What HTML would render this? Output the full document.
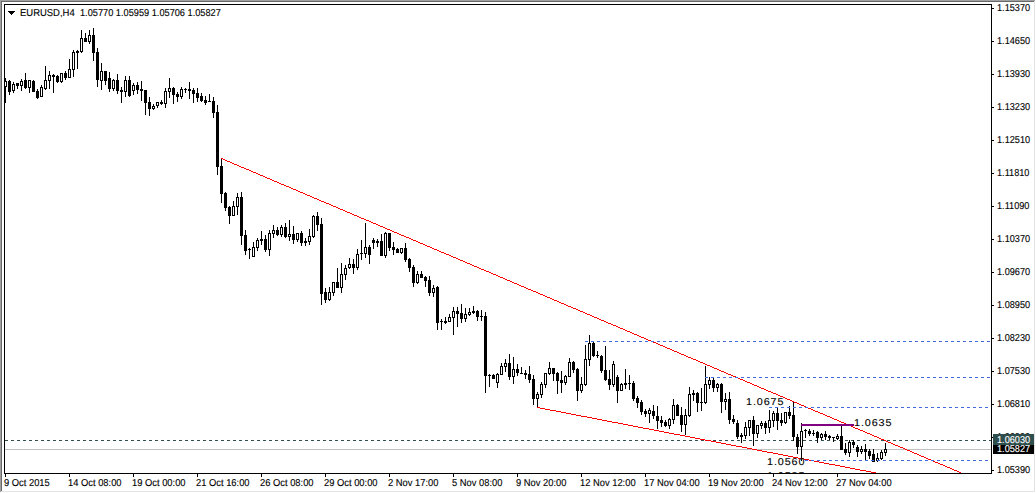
<!DOCTYPE html>
<html><head><meta charset="utf-8"><title>EURUSD,H4</title>
<style>
html,body{margin:0;padding:0;background:#fff;}
body{width:1036px;height:493px;position:relative;overflow:hidden;font-family:"Liberation Sans",sans-serif;color:#000;text-rendering:geometricPrecision;}
.b{position:absolute;}
.t{position:absolute;white-space:nowrap;font-size:10px;line-height:10px;transform-origin:0 0;transform:scaleX(0.945);-webkit-text-stroke:0.12px #000;}
.yl{left:997px;transform:scaleX(0.915);}
.xl{top:479px;transform:scaleX(0.935);}
.lab{position:absolute;white-space:nowrap;font-size:10px;line-height:10px;transform-origin:0 0;transform:scaleX(1.08);letter-spacing:0.82px;-webkit-text-stroke:0.1px #000;}
.pl{position:absolute;left:993px;width:41px;color:#fff;font-size:10px;line-height:10px;white-space:nowrap;}
.pl span{position:absolute;left:4px;transform-origin:0 0;transform:scaleX(0.915);-webkit-text-stroke:0.12px #fff;}
svg{position:absolute;left:0;top:0;}
</style></head><body>

<div class="b" style="left:0;top:0;width:1035px;height:1px;background:#a0a0a0"></div>
<div class="b" style="left:0;top:0;width:1px;height:492px;background:#a0a0a0"></div>
<div class="b" style="left:1px;top:1px;width:1033px;height:1px;background:#696969"></div>
<div class="b" style="left:1px;top:1px;width:1px;height:490px;background:#696969"></div>
<div class="b" style="left:1034px;top:1px;width:1px;height:491px;background:#e3e3e3"></div>
<div class="b" style="left:1px;top:491px;width:1034px;height:1px;background:#e3e3e3"></div>
<svg width="1036" height="493" viewBox="0 0 1036 493" shape-rendering="crispEdges" fill="none" stroke="#000" stroke-width="1">
<defs><clipPath id="c"><rect x="5" y="5" width="986" height="468"/></clipPath></defs>
<g clip-path="url(#c)">
<path d="M5 440.5H991" stroke="#2f4f4f" stroke-dasharray="3 3"/>
<path d="M5 449.5H991" stroke="#c0c0c0"/>
<g><path d="M5.5 78V103"/>
<rect x="4" y="81" width="3" height="6" fill="#000" stroke="none"/>
<rect x="5" y="82" width="1" height="4" fill="#fff" stroke="none"/>
<path d="M9.5 80V95"/>
<rect x="8" y="81" width="3" height="11" fill="#000" stroke="none"/>
<path d="M13.5 82V93"/>
<rect x="12" y="84" width="3" height="7" fill="#000" stroke="none"/>
<rect x="13" y="85" width="1" height="5" fill="#fff" stroke="none"/>
<path d="M17.5 83V89"/>
<rect x="16" y="83" width="3" height="3" fill="#000" stroke="none"/>
<path d="M21.5 79V91"/>
<rect x="20" y="81" width="3" height="5" fill="#000" stroke="none"/>
<rect x="21" y="82" width="1" height="3" fill="#fff" stroke="none"/>
<path d="M25.5 73V89"/>
<rect x="24" y="80" width="3" height="8" fill="#000" stroke="none"/>
<path d="M29.5 80V93"/>
<rect x="28" y="80" width="3" height="8" fill="#000" stroke="none"/>
<rect x="29" y="81" width="1" height="6" fill="#fff" stroke="none"/>
<path d="M33.5 80V92"/>
<rect x="32" y="81" width="3" height="11" fill="#000" stroke="none"/>
<path d="M37.5 89V99"/>
<rect x="36" y="91" width="3" height="7" fill="#000" stroke="none"/>
<path d="M41.5 85V97"/>
<rect x="40" y="87" width="3" height="10" fill="#000" stroke="none"/>
<rect x="41" y="88" width="1" height="8" fill="#fff" stroke="none"/>
<path d="M45.5 66V90"/>
<rect x="44" y="80" width="3" height="9" fill="#000" stroke="none"/>
<rect x="45" y="81" width="1" height="7" fill="#fff" stroke="none"/>
<path d="M49.5 71V89"/>
<rect x="48" y="75" width="3" height="6" fill="#000" stroke="none"/>
<rect x="49" y="76" width="1" height="4" fill="#fff" stroke="none"/>
<path d="M53.5 74V93"/>
<rect x="52" y="75" width="3" height="2" fill="#000" stroke="none"/>
<path d="M57.5 75V83"/>
<rect x="56" y="76" width="3" height="6" fill="#000" stroke="none"/>
<path d="M61.5 73V83"/>
<rect x="60" y="73" width="3" height="9" fill="#000" stroke="none"/>
<rect x="61" y="74" width="1" height="7" fill="#fff" stroke="none"/>
<path d="M65.5 71V80"/>
<rect x="64" y="73" width="3" height="5" fill="#000" stroke="none"/>
<path d="M69.5 59V78"/>
<rect x="68" y="69" width="3" height="9" fill="#000" stroke="none"/>
<rect x="69" y="70" width="1" height="7" fill="#fff" stroke="none"/>
<path d="M73.5 50V77"/>
<rect x="72" y="52" width="3" height="18" fill="#000" stroke="none"/>
<rect x="73" y="53" width="1" height="16" fill="#fff" stroke="none"/>
<path d="M77.5 50V69"/>
<rect x="76" y="51" width="3" height="2" fill="#000" stroke="none"/>
<path d="M81.5 30V53"/>
<rect x="80" y="38" width="3" height="14" fill="#000" stroke="none"/>
<rect x="81" y="39" width="1" height="12" fill="#fff" stroke="none"/>
<path d="M85.5 33V42"/>
<rect x="84" y="38" width="3" height="4" fill="#000" stroke="none"/>
<path d="M89.5 30V44"/>
<rect x="88" y="35" width="3" height="7" fill="#000" stroke="none"/>
<rect x="89" y="36" width="1" height="5" fill="#fff" stroke="none"/>
<path d="M93.5 28V61"/>
<rect x="92" y="35" width="3" height="18" fill="#000" stroke="none"/>
<path d="M97.5 48V87"/>
<rect x="96" y="52" width="3" height="28" fill="#000" stroke="none"/>
<path d="M101.5 63V90"/>
<rect x="100" y="71" width="3" height="10" fill="#000" stroke="none"/>
<rect x="101" y="72" width="1" height="8" fill="#fff" stroke="none"/>
<path d="M105.5 71V85"/>
<rect x="104" y="71" width="3" height="10" fill="#000" stroke="none"/>
<path d="M109.5 72V92"/>
<rect x="108" y="78" width="3" height="11" fill="#000" stroke="none"/>
<path d="M113.5 79V91"/>
<rect x="112" y="80" width="3" height="9" fill="#000" stroke="none"/>
<rect x="113" y="81" width="1" height="7" fill="#fff" stroke="none"/>
<path d="M117.5 74V94"/>
<rect x="116" y="80" width="3" height="11" fill="#000" stroke="none"/>
<path d="M121.5 87V103"/>
<rect x="120" y="90" width="3" height="2" fill="#000" stroke="none"/>
<path d="M125.5 76V97"/>
<rect x="124" y="80" width="3" height="12" fill="#000" stroke="none"/>
<rect x="125" y="81" width="1" height="10" fill="#fff" stroke="none"/>
<path d="M129.5 76V97"/>
<rect x="128" y="80" width="3" height="16" fill="#000" stroke="none"/>
<path d="M133.5 83V95"/>
<rect x="132" y="85" width="3" height="6" fill="#000" stroke="none"/>
<rect x="133" y="86" width="1" height="4" fill="#fff" stroke="none"/>
<path d="M137.5 82V94"/>
<rect x="136" y="85" width="3" height="5" fill="#000" stroke="none"/>
<path d="M141.5 81V101"/>
<rect x="140" y="89" width="3" height="2" fill="#000" stroke="none"/>
<path d="M145.5 90V115"/>
<rect x="144" y="90" width="3" height="13" fill="#000" stroke="none"/>
<path d="M149.5 97V116"/>
<rect x="148" y="102" width="3" height="7" fill="#000" stroke="none"/>
<path d="M153.5 104V110"/>
<rect x="152" y="106" width="3" height="3" fill="#000" stroke="none"/>
<rect x="153" y="107" width="1" height="1" fill="#fff" stroke="none"/>
<path d="M157.5 102V108"/>
<rect x="156" y="102" width="3" height="4" fill="#000" stroke="none"/>
<rect x="157" y="103" width="1" height="2" fill="#fff" stroke="none"/>
<path d="M161.5 100V105"/>
<rect x="160" y="102" width="3" height="2" fill="#000" stroke="none"/>
<path d="M165.5 88V108"/>
<rect x="164" y="91" width="3" height="13" fill="#000" stroke="none"/>
<rect x="165" y="92" width="1" height="11" fill="#fff" stroke="none"/>
<path d="M169.5 78V98"/>
<rect x="168" y="88" width="3" height="4" fill="#000" stroke="none"/>
<rect x="169" y="89" width="1" height="2" fill="#fff" stroke="none"/>
<path d="M173.5 87V104"/>
<rect x="172" y="88" width="3" height="7" fill="#000" stroke="none"/>
<path d="M177.5 92V102"/>
<rect x="176" y="94" width="3" height="3" fill="#000" stroke="none"/>
<path d="M181.5 87V99"/>
<rect x="180" y="89" width="3" height="8" fill="#000" stroke="none"/>
<rect x="181" y="90" width="1" height="6" fill="#fff" stroke="none"/>
<path d="M185.5 88V93"/>
<rect x="184" y="89" width="3" height="1" fill="#000" stroke="none"/>
<path d="M189.5 82V99"/>
<rect x="188" y="89" width="3" height="2" fill="#000" stroke="none"/>
<path d="M193.5 88V103"/>
<rect x="192" y="90" width="3" height="4" fill="#000" stroke="none"/>
<path d="M197.5 88V102"/>
<rect x="196" y="93" width="3" height="5" fill="#000" stroke="none"/>
<path d="M201.5 93V102"/>
<rect x="200" y="96" width="3" height="5" fill="#000" stroke="none"/>
<path d="M205.5 96V105"/>
<rect x="204" y="100" width="3" height="3" fill="#000" stroke="none"/>
<path d="M209.5 94V102"/>
<rect x="208" y="101" width="3" height="1" fill="#000" stroke="none"/>
<path d="M213.5 97V118"/>
<rect x="212" y="101" width="3" height="12" fill="#000" stroke="none"/>
<path d="M217.5 105V175"/>
<rect x="216" y="112" width="3" height="55" fill="#000" stroke="none"/>
<path d="M221.5 158V203"/>
<rect x="220" y="166" width="3" height="28" fill="#000" stroke="none"/>
<path d="M225.5 192V211"/>
<rect x="224" y="193" width="3" height="15" fill="#000" stroke="none"/>
<path d="M229.5 206V224"/>
<rect x="228" y="207" width="3" height="9" fill="#000" stroke="none"/>
<path d="M233.5 201V216"/>
<rect x="232" y="206" width="3" height="10" fill="#000" stroke="none"/>
<rect x="233" y="207" width="1" height="8" fill="#fff" stroke="none"/>
<path d="M237.5 193V215"/>
<rect x="236" y="197" width="3" height="10" fill="#000" stroke="none"/>
<rect x="237" y="198" width="1" height="8" fill="#fff" stroke="none"/>
<path d="M241.5 192V245"/>
<rect x="240" y="197" width="3" height="39" fill="#000" stroke="none"/>
<path d="M245.5 230V255"/>
<rect x="244" y="235" width="3" height="16" fill="#000" stroke="none"/>
<path d="M249.5 248V259"/>
<rect x="248" y="249" width="3" height="1" fill="#000" stroke="none"/>
<path d="M253.5 242V257"/>
<rect x="252" y="247" width="3" height="10" fill="#000" stroke="none"/>
<rect x="253" y="248" width="1" height="8" fill="#fff" stroke="none"/>
<path d="M257.5 238V251"/>
<rect x="256" y="240" width="3" height="8" fill="#000" stroke="none"/>
<rect x="257" y="241" width="1" height="6" fill="#fff" stroke="none"/>
<path d="M261.5 231V245"/>
<rect x="260" y="239" width="3" height="2" fill="#000" stroke="none"/>
<path d="M265.5 235V252"/>
<rect x="264" y="239" width="3" height="11" fill="#000" stroke="none"/>
<path d="M269.5 230V256"/>
<rect x="268" y="233" width="3" height="17" fill="#000" stroke="none"/>
<rect x="269" y="234" width="1" height="15" fill="#fff" stroke="none"/>
<path d="M273.5 225V238"/>
<rect x="272" y="230" width="3" height="4" fill="#000" stroke="none"/>
<rect x="273" y="231" width="1" height="2" fill="#fff" stroke="none"/>
<path d="M277.5 227V236"/>
<rect x="276" y="230" width="3" height="5" fill="#000" stroke="none"/>
<path d="M281.5 225V237"/>
<rect x="280" y="227" width="3" height="8" fill="#000" stroke="none"/>
<rect x="281" y="228" width="1" height="6" fill="#fff" stroke="none"/>
<path d="M285.5 223V238"/>
<rect x="284" y="227" width="3" height="10" fill="#000" stroke="none"/>
<path d="M289.5 220V241"/>
<rect x="288" y="234" width="3" height="3" fill="#000" stroke="none"/>
<rect x="289" y="235" width="1" height="1" fill="#fff" stroke="none"/>
<path d="M293.5 226V244"/>
<rect x="292" y="234" width="3" height="6" fill="#000" stroke="none"/>
<path d="M297.5 233V242"/>
<rect x="296" y="233" width="3" height="7" fill="#000" stroke="none"/>
<rect x="297" y="234" width="1" height="5" fill="#fff" stroke="none"/>
<path d="M301.5 231V246"/>
<rect x="300" y="233" width="3" height="10" fill="#000" stroke="none"/>
<path d="M305.5 238V246"/>
<rect x="304" y="241" width="3" height="2" fill="#000" stroke="none"/>
<path d="M309.5 229V245"/>
<rect x="308" y="236" width="3" height="6" fill="#000" stroke="none"/>
<rect x="309" y="237" width="1" height="4" fill="#fff" stroke="none"/>
<path d="M313.5 215V238"/>
<rect x="312" y="216" width="3" height="21" fill="#000" stroke="none"/>
<rect x="313" y="217" width="1" height="19" fill="#fff" stroke="none"/>
<path d="M317.5 212V231"/>
<rect x="316" y="216" width="3" height="9" fill="#000" stroke="none"/>
<path d="M321.5 218V305"/>
<rect x="320" y="224" width="3" height="70" fill="#000" stroke="none"/>
<path d="M325.5 288V303"/>
<rect x="324" y="292" width="3" height="8" fill="#000" stroke="none"/>
<path d="M329.5 287V301"/>
<rect x="328" y="292" width="3" height="8" fill="#000" stroke="none"/>
<rect x="329" y="293" width="1" height="6" fill="#fff" stroke="none"/>
<path d="M333.5 282V296"/>
<rect x="332" y="282" width="3" height="11" fill="#000" stroke="none"/>
<rect x="333" y="283" width="1" height="9" fill="#fff" stroke="none"/>
<path d="M337.5 268V288"/>
<rect x="336" y="282" width="3" height="6" fill="#000" stroke="none"/>
<path d="M341.5 263V293"/>
<rect x="340" y="274" width="3" height="14" fill="#000" stroke="none"/>
<rect x="341" y="275" width="1" height="12" fill="#fff" stroke="none"/>
<path d="M345.5 265V280"/>
<rect x="344" y="268" width="3" height="7" fill="#000" stroke="none"/>
<rect x="345" y="269" width="1" height="5" fill="#fff" stroke="none"/>
<path d="M349.5 258V269"/>
<rect x="348" y="264" width="3" height="4" fill="#000" stroke="none"/>
<rect x="349" y="265" width="1" height="2" fill="#fff" stroke="none"/>
<path d="M353.5 259V274"/>
<rect x="352" y="264" width="3" height="4" fill="#000" stroke="none"/>
<path d="M357.5 249V270"/>
<rect x="356" y="254" width="3" height="14" fill="#000" stroke="none"/>
<rect x="357" y="255" width="1" height="12" fill="#fff" stroke="none"/>
<path d="M361.5 240V260"/>
<rect x="360" y="253" width="3" height="1" fill="#000" stroke="none"/>
<path d="M365.5 223V258"/>
<rect x="364" y="247" width="3" height="7" fill="#000" stroke="none"/>
<rect x="365" y="248" width="1" height="5" fill="#fff" stroke="none"/>
<path d="M369.5 245V264"/>
<rect x="368" y="247" width="3" height="8" fill="#000" stroke="none"/>
<path d="M373.5 238V249"/>
<rect x="372" y="240" width="3" height="3" fill="#000" stroke="none"/>
<path d="M377.5 239V247"/>
<rect x="376" y="241" width="3" height="2" fill="#000" stroke="none"/>
<path d="M381.5 234V256"/>
<rect x="380" y="241" width="3" height="15" fill="#000" stroke="none"/>
<path d="M385.5 232V258"/>
<rect x="384" y="233" width="3" height="23" fill="#000" stroke="none"/>
<rect x="385" y="234" width="1" height="21" fill="#fff" stroke="none"/>
<path d="M389.5 233V251"/>
<rect x="388" y="233" width="3" height="15" fill="#000" stroke="none"/>
<path d="M393.5 242V255"/>
<rect x="392" y="247" width="3" height="3" fill="#000" stroke="none"/>
<path d="M397.5 248V253"/>
<rect x="396" y="249" width="3" height="4" fill="#000" stroke="none"/>
<path d="M401.5 248V254"/>
<rect x="400" y="248" width="3" height="5" fill="#000" stroke="none"/>
<rect x="401" y="249" width="1" height="3" fill="#fff" stroke="none"/>
<path d="M405.5 243V262"/>
<rect x="404" y="248" width="3" height="12" fill="#000" stroke="none"/>
<path d="M409.5 258V272"/>
<rect x="408" y="259" width="3" height="9" fill="#000" stroke="none"/>
<path d="M413.5 265V287"/>
<rect x="412" y="267" width="3" height="16" fill="#000" stroke="none"/>
<path d="M417.5 271V284"/>
<rect x="416" y="274" width="3" height="9" fill="#000" stroke="none"/>
<rect x="417" y="275" width="1" height="7" fill="#fff" stroke="none"/>
<path d="M421.5 271V278"/>
<rect x="420" y="274" width="3" height="4" fill="#000" stroke="none"/>
<path d="M425.5 276V287"/>
<rect x="424" y="277" width="3" height="4" fill="#000" stroke="none"/>
<path d="M429.5 276V296"/>
<rect x="428" y="280" width="3" height="13" fill="#000" stroke="none"/>
<path d="M433.5 285V297"/>
<rect x="432" y="288" width="3" height="5" fill="#000" stroke="none"/>
<rect x="433" y="289" width="1" height="3" fill="#fff" stroke="none"/>
<path d="M437.5 286V330"/>
<rect x="436" y="287" width="3" height="36" fill="#000" stroke="none"/>
<path d="M441.5 319V330"/>
<rect x="440" y="321" width="3" height="1" fill="#000" stroke="none"/>
<path d="M445.5 317V324"/>
<rect x="444" y="321" width="3" height="2" fill="#000" stroke="none"/>
<path d="M449.5 314V322"/>
<rect x="448" y="317" width="3" height="5" fill="#000" stroke="none"/>
<rect x="449" y="318" width="1" height="3" fill="#fff" stroke="none"/>
<path d="M453.5 307V335"/>
<rect x="452" y="311" width="3" height="7" fill="#000" stroke="none"/>
<rect x="453" y="312" width="1" height="5" fill="#fff" stroke="none"/>
<path d="M457.5 307V327"/>
<rect x="456" y="311" width="3" height="3" fill="#000" stroke="none"/>
<path d="M461.5 304V323"/>
<rect x="460" y="313" width="3" height="6" fill="#000" stroke="none"/>
<path d="M465.5 308V322"/>
<rect x="464" y="314" width="3" height="5" fill="#000" stroke="none"/>
<rect x="465" y="315" width="1" height="3" fill="#fff" stroke="none"/>
<path d="M469.5 308V316"/>
<rect x="468" y="312" width="3" height="3" fill="#000" stroke="none"/>
<rect x="469" y="313" width="1" height="1" fill="#fff" stroke="none"/>
<path d="M473.5 306V314"/>
<rect x="472" y="311" width="3" height="2" fill="#000" stroke="none"/>
<path d="M477.5 310V321"/>
<rect x="476" y="311" width="3" height="6" fill="#000" stroke="none"/>
<path d="M481.5 310V321"/>
<rect x="480" y="316" width="3" height="1" fill="#000" stroke="none"/>
<path d="M485.5 312V393"/>
<rect x="484" y="316" width="3" height="60" fill="#000" stroke="none"/>
<path d="M489.5 374V387"/>
<rect x="488" y="375" width="3" height="1" fill="#000" stroke="none"/>
<path d="M493.5 374V379"/>
<rect x="492" y="375" width="3" height="4" fill="#000" stroke="none"/>
<path d="M497.5 373V388"/>
<rect x="496" y="374" width="3" height="9" fill="#000" stroke="none"/>
<rect x="497" y="375" width="1" height="7" fill="#fff" stroke="none"/>
<path d="M501.5 363V375"/>
<rect x="500" y="366" width="3" height="9" fill="#000" stroke="none"/>
<rect x="501" y="367" width="1" height="7" fill="#fff" stroke="none"/>
<path d="M505.5 359V372"/>
<rect x="504" y="363" width="3" height="4" fill="#000" stroke="none"/>
<rect x="505" y="364" width="1" height="2" fill="#fff" stroke="none"/>
<path d="M509.5 354V380"/>
<rect x="508" y="363" width="3" height="14" fill="#000" stroke="none"/>
<path d="M513.5 357V384"/>
<rect x="512" y="369" width="3" height="8" fill="#000" stroke="none"/>
<rect x="513" y="370" width="1" height="6" fill="#fff" stroke="none"/>
<path d="M517.5 364V376"/>
<rect x="516" y="369" width="3" height="4" fill="#000" stroke="none"/>
<path d="M521.5 367V374"/>
<rect x="520" y="373" width="3" height="1" fill="#000" stroke="none"/>
<path d="M525.5 370V379"/>
<rect x="524" y="373" width="3" height="2" fill="#000" stroke="none"/>
<path d="M529.5 366V383"/>
<rect x="528" y="374" width="3" height="6" fill="#000" stroke="none"/>
<path d="M533.5 375V405"/>
<rect x="532" y="379" width="3" height="20" fill="#000" stroke="none"/>
<path d="M537.5 392V408"/>
<rect x="536" y="394" width="3" height="5" fill="#000" stroke="none"/>
<rect x="537" y="395" width="1" height="3" fill="#fff" stroke="none"/>
<path d="M541.5 382V398"/>
<rect x="540" y="384" width="3" height="11" fill="#000" stroke="none"/>
<rect x="541" y="385" width="1" height="9" fill="#fff" stroke="none"/>
<path d="M545.5 373V388"/>
<rect x="544" y="373" width="3" height="12" fill="#000" stroke="none"/>
<rect x="545" y="374" width="1" height="10" fill="#fff" stroke="none"/>
<path d="M549.5 362V375"/>
<rect x="548" y="368" width="3" height="6" fill="#000" stroke="none"/>
<rect x="549" y="369" width="1" height="4" fill="#fff" stroke="none"/>
<path d="M553.5 368V381"/>
<rect x="552" y="368" width="3" height="6" fill="#000" stroke="none"/>
<path d="M557.5 372V394"/>
<rect x="556" y="373" width="3" height="8" fill="#000" stroke="none"/>
<path d="M561.5 371V393"/>
<rect x="560" y="380" width="3" height="3" fill="#000" stroke="none"/>
<path d="M565.5 375V385"/>
<rect x="564" y="376" width="3" height="7" fill="#000" stroke="none"/>
<rect x="565" y="377" width="1" height="5" fill="#fff" stroke="none"/>
<path d="M569.5 358V377"/>
<rect x="568" y="362" width="3" height="15" fill="#000" stroke="none"/>
<rect x="569" y="363" width="1" height="13" fill="#fff" stroke="none"/>
<path d="M573.5 361V373"/>
<rect x="572" y="362" width="3" height="8" fill="#000" stroke="none"/>
<path d="M577.5 368V401"/>
<rect x="576" y="369" width="3" height="22" fill="#000" stroke="none"/>
<path d="M581.5 377V393"/>
<rect x="580" y="384" width="3" height="7" fill="#000" stroke="none"/>
<rect x="581" y="385" width="1" height="5" fill="#fff" stroke="none"/>
<path d="M585.5 345V386"/>
<rect x="584" y="359" width="3" height="26" fill="#000" stroke="none"/>
<rect x="585" y="360" width="1" height="24" fill="#fff" stroke="none"/>
<path d="M589.5 335V366"/>
<rect x="588" y="343" width="3" height="17" fill="#000" stroke="none"/>
<rect x="589" y="344" width="1" height="15" fill="#fff" stroke="none"/>
<path d="M593.5 342V357"/>
<rect x="592" y="343" width="3" height="13" fill="#000" stroke="none"/>
<path d="M597.5 351V358"/>
<rect x="596" y="355" width="3" height="1" fill="#000" stroke="none"/>
<path d="M601.5 355V373"/>
<rect x="600" y="356" width="3" height="15" fill="#000" stroke="none"/>
<path d="M605.5 346V381"/>
<rect x="604" y="370" width="3" height="10" fill="#000" stroke="none"/>
<path d="M609.5 370V390"/>
<rect x="608" y="379" width="3" height="6" fill="#000" stroke="none"/>
<path d="M613.5 361V387"/>
<rect x="612" y="364" width="3" height="21" fill="#000" stroke="none"/>
<rect x="613" y="365" width="1" height="19" fill="#fff" stroke="none"/>
<path d="M617.5 375V403"/>
<rect x="616" y="377" width="3" height="14" fill="#000" stroke="none"/>
<path d="M621.5 383V391"/>
<rect x="620" y="384" width="3" height="7" fill="#000" stroke="none"/>
<rect x="621" y="385" width="1" height="5" fill="#fff" stroke="none"/>
<path d="M625.5 369V389"/>
<rect x="624" y="383" width="3" height="2" fill="#000" stroke="none"/>
<path d="M629.5 375V390"/>
<rect x="628" y="383" width="3" height="1" fill="#000" stroke="none"/>
<path d="M633.5 381V401"/>
<rect x="632" y="383" width="3" height="16" fill="#000" stroke="none"/>
<path d="M637.5 396V408"/>
<rect x="636" y="398" width="3" height="5" fill="#000" stroke="none"/>
<path d="M641.5 400V415"/>
<rect x="640" y="402" width="3" height="10" fill="#000" stroke="none"/>
<path d="M645.5 409V417"/>
<rect x="644" y="411" width="3" height="3" fill="#000" stroke="none"/>
<path d="M649.5 408V423"/>
<rect x="648" y="410" width="3" height="4" fill="#000" stroke="none"/>
<rect x="649" y="411" width="1" height="2" fill="#fff" stroke="none"/>
<path d="M653.5 405V419"/>
<rect x="652" y="411" width="3" height="5" fill="#000" stroke="none"/>
<path d="M657.5 406V429"/>
<rect x="656" y="416" width="3" height="5" fill="#000" stroke="none"/>
<path d="M661.5 416V427"/>
<rect x="660" y="420" width="3" height="3" fill="#000" stroke="none"/>
<path d="M665.5 420V427"/>
<rect x="664" y="422" width="3" height="4" fill="#000" stroke="none"/>
<path d="M669.5 418V429"/>
<rect x="668" y="419" width="3" height="7" fill="#000" stroke="none"/>
<rect x="669" y="420" width="1" height="5" fill="#fff" stroke="none"/>
<path d="M673.5 399V424"/>
<rect x="672" y="405" width="3" height="15" fill="#000" stroke="none"/>
<rect x="673" y="406" width="1" height="13" fill="#fff" stroke="none"/>
<path d="M677.5 404V416"/>
<rect x="676" y="405" width="3" height="11" fill="#000" stroke="none"/>
<path d="M681.5 407V432"/>
<rect x="680" y="415" width="3" height="10" fill="#000" stroke="none"/>
<path d="M685.5 409V435"/>
<rect x="684" y="415" width="3" height="10" fill="#000" stroke="none"/>
<rect x="685" y="416" width="1" height="8" fill="#fff" stroke="none"/>
<path d="M689.5 387V417"/>
<rect x="688" y="394" width="3" height="22" fill="#000" stroke="none"/>
<rect x="689" y="395" width="1" height="20" fill="#fff" stroke="none"/>
<path d="M693.5 390V401"/>
<rect x="692" y="393" width="3" height="2" fill="#000" stroke="none"/>
<path d="M697.5 392V412"/>
<rect x="696" y="393" width="3" height="10" fill="#000" stroke="none"/>
<path d="M701.5 388V411"/>
<rect x="700" y="402" width="3" height="1" fill="#000" stroke="none"/>
<path d="M705.5 366V404"/>
<rect x="704" y="384" width="3" height="19" fill="#000" stroke="none"/>
<rect x="705" y="385" width="1" height="17" fill="#fff" stroke="none"/>
<path d="M709.5 377V389"/>
<rect x="708" y="380" width="3" height="5" fill="#000" stroke="none"/>
<rect x="709" y="381" width="1" height="3" fill="#fff" stroke="none"/>
<path d="M713.5 377V392"/>
<rect x="712" y="380" width="3" height="8" fill="#000" stroke="none"/>
<path d="M717.5 383V392"/>
<rect x="716" y="384" width="3" height="4" fill="#000" stroke="none"/>
<rect x="717" y="385" width="1" height="2" fill="#fff" stroke="none"/>
<path d="M721.5 383V413"/>
<rect x="720" y="384" width="3" height="18" fill="#000" stroke="none"/>
<path d="M725.5 393V410"/>
<rect x="724" y="399" width="3" height="3" fill="#000" stroke="none"/>
<rect x="725" y="400" width="1" height="1" fill="#fff" stroke="none"/>
<path d="M729.5 392V424"/>
<rect x="728" y="399" width="3" height="21" fill="#000" stroke="none"/>
<path d="M733.5 415V424"/>
<rect x="732" y="419" width="3" height="3" fill="#000" stroke="none"/>
<path d="M737.5 420V439"/>
<rect x="736" y="423" width="3" height="14" fill="#000" stroke="none"/>
<path d="M741.5 433V443"/>
<rect x="740" y="435" width="3" height="2" fill="#000" stroke="none"/>
<path d="M745.5 422V439"/>
<rect x="744" y="427" width="3" height="9" fill="#000" stroke="none"/>
<rect x="745" y="428" width="1" height="7" fill="#fff" stroke="none"/>
<path d="M749.5 420V436"/>
<rect x="748" y="420" width="3" height="8" fill="#000" stroke="none"/>
<rect x="749" y="421" width="1" height="6" fill="#fff" stroke="none"/>
<path d="M753.5 416V446"/>
<rect x="752" y="420" width="3" height="14" fill="#000" stroke="none"/>
<path d="M757.5 425V438"/>
<rect x="756" y="425" width="3" height="9" fill="#000" stroke="none"/>
<rect x="757" y="426" width="1" height="7" fill="#fff" stroke="none"/>
<path d="M761.5 421V429"/>
<rect x="760" y="423" width="3" height="3" fill="#000" stroke="none"/>
<rect x="761" y="424" width="1" height="1" fill="#fff" stroke="none"/>
<path d="M765.5 421V434"/>
<rect x="764" y="423" width="3" height="5" fill="#000" stroke="none"/>
<path d="M769.5 410V433"/>
<rect x="768" y="420" width="3" height="8" fill="#000" stroke="none"/>
<rect x="769" y="421" width="1" height="6" fill="#fff" stroke="none"/>
<path d="M773.5 411V427"/>
<rect x="772" y="413" width="3" height="8" fill="#000" stroke="none"/>
<rect x="773" y="414" width="1" height="6" fill="#fff" stroke="none"/>
<path d="M777.5 408V430"/>
<rect x="776" y="413" width="3" height="8" fill="#000" stroke="none"/>
<path d="M781.5 413V426"/>
<rect x="780" y="420" width="3" height="3" fill="#000" stroke="none"/>
<path d="M785.5 412V424"/>
<rect x="784" y="412" width="3" height="11" fill="#000" stroke="none"/>
<rect x="785" y="413" width="1" height="9" fill="#fff" stroke="none"/>
<path d="M789.5 406V419"/>
<rect x="788" y="412" width="3" height="4" fill="#000" stroke="none"/>
<path d="M793.5 402V441"/>
<rect x="792" y="415" width="3" height="22" fill="#000" stroke="none"/>
<path d="M797.5 434V454"/>
<rect x="796" y="437" width="3" height="10" fill="#000" stroke="none"/>
<path d="M801.5 423V461"/>
<rect x="800" y="431" width="3" height="16" fill="#000" stroke="none"/>
<rect x="801" y="432" width="1" height="14" fill="#fff" stroke="none"/>
<path d="M805.5 429V438"/>
<rect x="804" y="430" width="3" height="1" fill="#000" stroke="none"/>
<path d="M809.5 429V436"/>
<rect x="808" y="431" width="3" height="3" fill="#000" stroke="none"/>
<path d="M813.5 430V436"/>
<rect x="812" y="433" width="3" height="1" fill="#000" stroke="none"/>
<path d="M817.5 431V443"/>
<rect x="816" y="432" width="3" height="6" fill="#000" stroke="none"/>
<path d="M821.5 433V440"/>
<rect x="820" y="434" width="3" height="4" fill="#000" stroke="none"/>
<rect x="821" y="435" width="1" height="2" fill="#fff" stroke="none"/>
<path d="M825.5 431V440"/>
<rect x="824" y="434" width="3" height="3" fill="#000" stroke="none"/>
<path d="M829.5 435V440"/>
<rect x="828" y="436" width="3" height="2" fill="#000" stroke="none"/>
<path d="M833.5 437V442"/>
<rect x="832" y="437" width="3" height="1" fill="#000" stroke="none"/>
<path d="M837.5 434V440"/>
<rect x="836" y="436" width="3" height="3" fill="#000" stroke="none"/>
<rect x="837" y="437" width="1" height="1" fill="#fff" stroke="none"/>
<path d="M841.5 426V450"/>
<rect x="840" y="436" width="3" height="14" fill="#000" stroke="none"/>
<path d="M845.5 443V455"/>
<rect x="844" y="449" width="3" height="4" fill="#000" stroke="none"/>
<path d="M849.5 440V457"/>
<rect x="848" y="442" width="3" height="11" fill="#000" stroke="none"/>
<rect x="849" y="443" width="1" height="9" fill="#fff" stroke="none"/>
<path d="M853.5 440V448"/>
<rect x="852" y="442" width="3" height="3" fill="#000" stroke="none"/>
<path d="M857.5 445V457"/>
<rect x="856" y="447" width="3" height="5" fill="#000" stroke="none"/>
<path d="M861.5 446V454"/>
<rect x="860" y="449" width="3" height="3" fill="#000" stroke="none"/>
<rect x="861" y="450" width="1" height="1" fill="#fff" stroke="none"/>
<path d="M865.5 444V461"/>
<rect x="864" y="449" width="3" height="3" fill="#000" stroke="none"/>
<path d="M869.5 449V459"/>
<rect x="868" y="451" width="3" height="5" fill="#000" stroke="none"/>
<path d="M873.5 449V462"/>
<rect x="872" y="454" width="3" height="8" fill="#000" stroke="none"/>
<path d="M877.5 453V462"/>
<rect x="876" y="458" width="3" height="3" fill="#000" stroke="none"/>
<rect x="877" y="459" width="1" height="1" fill="#fff" stroke="none"/>
<path d="M881.5 450V460"/>
<rect x="880" y="452" width="3" height="7" fill="#000" stroke="none"/>
<rect x="881" y="453" width="1" height="5" fill="#fff" stroke="none"/>
<path d="M885.5 443V456"/>
<rect x="884" y="449" width="3" height="4" fill="#000" stroke="none"/>
<rect x="885" y="450" width="1" height="2" fill="#fff" stroke="none"/></g>
<path d="M221 158h2v1h-2zM223 159h2v1h-2zM225 160h2v1h-2zM227 161h3v1h-3zM230 162h2v1h-2zM232 163h2v1h-2zM234 164h3v1h-3zM237 165h2v1h-2zM239 166h2v1h-2zM241 167h3v1h-3zM244 168h2v1h-2zM246 169h3v1h-3zM249 170h2v1h-2zM251 171h2v1h-2zM253 172h3v1h-3zM256 173h2v1h-2zM258 174h2v1h-2zM260 175h3v1h-3zM263 176h2v1h-2zM265 177h2v1h-2zM267 178h3v1h-3zM270 179h2v1h-2zM272 180h2v1h-2zM274 181h3v1h-3zM277 182h2v1h-2zM279 183h2v1h-2zM281 184h3v1h-3zM284 185h2v1h-2zM286 186h3v1h-3zM289 187h2v1h-2zM291 188h2v1h-2zM293 189h3v1h-3zM296 190h2v1h-2zM298 191h2v1h-2zM300 192h3v1h-3zM303 193h2v1h-2zM305 194h2v1h-2zM307 195h3v1h-3zM310 196h2v1h-2zM312 197h2v1h-2zM314 198h3v1h-3zM317 199h2v1h-2zM319 200h2v1h-2zM321 201h3v1h-3zM324 202h2v1h-2zM326 203h3v1h-3zM329 204h2v1h-2zM331 205h2v1h-2zM333 206h3v1h-3zM336 207h2v1h-2zM338 208h2v1h-2zM340 209h3v1h-3zM343 210h2v1h-2zM345 211h2v1h-2zM347 212h3v1h-3zM350 213h2v1h-2zM352 214h2v1h-2zM354 215h3v1h-3zM357 216h2v1h-2zM359 217h2v1h-2zM361 218h3v1h-3zM364 219h2v1h-2zM366 220h3v1h-3zM369 221h2v1h-2zM371 222h2v1h-2zM373 223h3v1h-3zM376 224h2v1h-2zM378 225h2v1h-2zM380 226h3v1h-3zM383 227h2v1h-2zM385 228h2v1h-2zM387 229h3v1h-3zM390 230h2v1h-2zM392 231h2v1h-2zM394 232h3v1h-3zM397 233h2v1h-2zM399 234h2v1h-2zM401 235h3v1h-3zM404 236h2v1h-2zM406 237h3v1h-3zM409 238h2v1h-2zM411 239h2v1h-2zM413 240h3v1h-3zM416 241h2v1h-2zM418 242h2v1h-2zM420 243h3v1h-3zM423 244h2v1h-2zM425 245h2v1h-2zM427 246h3v1h-3zM430 247h2v1h-2zM432 248h2v1h-2zM434 249h3v1h-3zM437 250h2v1h-2zM439 251h2v1h-2zM441 252h3v1h-3zM444 253h2v1h-2zM446 254h3v1h-3zM449 255h2v1h-2zM451 256h2v1h-2zM453 257h3v1h-3zM456 258h2v1h-2zM458 259h2v1h-2zM460 260h3v1h-3zM463 261h2v1h-2zM465 262h2v1h-2zM467 263h3v1h-3zM470 264h2v1h-2zM472 265h2v1h-2zM474 266h3v1h-3zM477 267h2v1h-2zM479 268h2v1h-2zM481 269h3v1h-3zM484 270h2v1h-2zM486 271h3v1h-3zM489 272h2v1h-2zM491 273h2v1h-2zM493 274h3v1h-3zM496 275h2v1h-2zM498 276h2v1h-2zM500 277h3v1h-3zM503 278h2v1h-2zM505 279h2v1h-2zM507 280h3v1h-3zM510 281h2v1h-2zM512 282h2v1h-2zM514 283h3v1h-3zM517 284h2v1h-2zM519 285h2v1h-2zM521 286h3v1h-3zM524 287h2v1h-2zM526 288h2v1h-2zM528 289h3v1h-3zM531 290h2v1h-2zM533 291h3v1h-3zM536 292h2v1h-2zM538 293h2v1h-2zM540 294h3v1h-3zM543 295h2v1h-2zM545 296h2v1h-2zM547 297h3v1h-3zM550 298h2v1h-2zM552 299h2v1h-2zM554 300h3v1h-3zM557 301h2v1h-2zM559 302h2v1h-2zM561 303h3v1h-3zM564 304h2v1h-2zM566 305h2v1h-2zM568 306h3v1h-3zM571 307h2v1h-2zM573 308h3v1h-3zM576 309h2v1h-2zM578 310h2v1h-2zM580 311h3v1h-3zM583 312h2v1h-2zM585 313h2v1h-2zM587 314h3v1h-3zM590 315h2v1h-2zM592 316h2v1h-2zM594 317h3v1h-3zM597 318h2v1h-2zM599 319h2v1h-2zM601 320h3v1h-3zM604 321h2v1h-2zM606 322h2v1h-2zM608 323h3v1h-3zM611 324h2v1h-2zM613 325h3v1h-3zM616 326h2v1h-2zM618 327h2v1h-2zM620 328h3v1h-3zM623 329h2v1h-2zM625 330h2v1h-2zM627 331h3v1h-3zM630 332h2v1h-2zM632 333h2v1h-2zM634 334h3v1h-3zM637 335h2v1h-2zM639 336h2v1h-2zM641 337h3v1h-3zM644 338h2v1h-2zM646 339h2v1h-2zM648 340h3v1h-3zM651 341h2v1h-2zM653 342h3v1h-3zM656 343h2v1h-2zM658 344h2v1h-2zM660 345h3v1h-3zM663 346h2v1h-2zM665 347h2v1h-2zM667 348h3v1h-3zM670 349h2v1h-2zM672 350h2v1h-2zM674 351h3v1h-3zM677 352h2v1h-2zM679 353h2v1h-2zM681 354h3v1h-3zM684 355h2v1h-2zM686 356h2v1h-2zM688 357h3v1h-3zM691 358h2v1h-2zM693 359h3v1h-3zM696 360h2v1h-2zM698 361h2v1h-2zM700 362h3v1h-3zM703 363h2v1h-2zM705 364h2v1h-2zM707 365h3v1h-3zM710 366h2v1h-2zM712 367h2v1h-2zM714 368h3v1h-3zM717 369h2v1h-2zM719 370h2v1h-2zM721 371h3v1h-3zM724 372h2v1h-2zM726 373h2v1h-2zM728 374h3v1h-3zM731 375h2v1h-2zM733 376h3v1h-3zM736 377h2v1h-2zM738 378h2v1h-2zM740 379h3v1h-3zM743 380h2v1h-2zM745 381h2v1h-2zM747 382h3v1h-3zM750 383h2v1h-2zM752 384h2v1h-2zM754 385h3v1h-3zM757 386h2v1h-2zM759 387h2v1h-2zM761 388h3v1h-3zM764 389h2v1h-2zM766 390h2v1h-2zM768 391h3v1h-3zM771 392h2v1h-2zM773 393h3v1h-3zM776 394h2v1h-2zM778 395h2v1h-2zM780 396h3v1h-3zM783 397h2v1h-2zM785 398h2v1h-2zM787 399h3v1h-3zM790 400h2v1h-2zM792 401h2v1h-2zM794 402h3v1h-3zM797 403h2v1h-2zM799 404h2v1h-2zM801 405h3v1h-3zM804 406h2v1h-2zM806 407h2v1h-2zM808 408h3v1h-3zM811 409h2v1h-2zM813 410h2v1h-2zM815 411h3v1h-3zM818 412h2v1h-2zM820 413h3v1h-3zM823 414h2v1h-2zM825 415h2v1h-2zM827 416h3v1h-3zM830 417h2v1h-2zM832 418h2v1h-2zM834 419h3v1h-3zM837 420h2v1h-2zM839 421h2v1h-2zM841 422h3v1h-3zM844 423h2v1h-2zM846 424h2v1h-2zM848 425h3v1h-3zM851 426h2v1h-2zM853 427h2v1h-2zM855 428h3v1h-3zM858 429h2v1h-2zM860 430h3v1h-3zM863 431h2v1h-2zM865 432h2v1h-2zM867 433h3v1h-3zM870 434h2v1h-2zM872 435h2v1h-2zM874 436h3v1h-3zM877 437h2v1h-2zM879 438h2v1h-2zM881 439h3v1h-3zM884 440h2v1h-2zM886 441h2v1h-2zM888 442h3v1h-3zM891 443h2v1h-2zM893 444h2v1h-2zM895 445h3v1h-3zM898 446h2v1h-2zM900 447h3v1h-3zM903 448h2v1h-2zM905 449h2v1h-2zM907 450h3v1h-3zM910 451h2v1h-2zM912 452h2v1h-2zM914 453h3v1h-3zM917 454h2v1h-2zM919 455h2v1h-2zM921 456h3v1h-3zM924 457h2v1h-2zM926 458h2v1h-2zM928 459h3v1h-3zM931 460h2v1h-2zM933 461h2v1h-2zM935 462h3v1h-3zM938 463h2v1h-2zM940 464h3v1h-3zM943 465h2v1h-2zM945 466h2v1h-2zM947 467h3v1h-3zM950 468h2v1h-2zM952 469h2v1h-2zM954 470h3v1h-3zM957 471h2v1h-2zM959 472h2v1h-2z" fill="#f00" stroke="none"/>
<path d="M537 407h3v1h-3zM540 408h5v1h-5zM545 409h5v1h-5zM550 410h6v1h-6zM556 411h5v1h-5zM561 412h5v1h-5zM566 413h5v1h-5zM571 414h5v1h-5zM576 415h5v1h-5zM581 416h6v1h-6zM587 417h5v1h-5zM592 418h5v1h-5zM597 419h5v1h-5zM602 420h5v1h-5zM607 421h5v1h-5zM612 422h6v1h-6zM618 423h5v1h-5zM623 424h5v1h-5zM628 425h5v1h-5zM633 426h5v1h-5zM638 427h5v1h-5zM643 428h6v1h-6zM649 429h5v1h-5zM654 430h5v1h-5zM659 431h5v1h-5zM664 432h5v1h-5zM669 433h5v1h-5zM674 434h6v1h-6zM680 435h5v1h-5zM685 436h5v1h-5zM690 437h5v1h-5zM695 438h5v1h-5zM700 439h5v1h-5zM705 440h6v1h-6zM711 441h5v1h-5zM716 442h5v1h-5zM721 443h5v1h-5zM726 444h5v1h-5zM731 445h5v1h-5zM736 446h6v1h-6zM742 447h5v1h-5zM747 448h5v1h-5zM752 449h5v1h-5zM757 450h5v1h-5zM762 451h5v1h-5zM767 452h6v1h-6zM773 453h5v1h-5zM778 454h5v1h-5zM783 455h5v1h-5zM788 456h5v1h-5zM793 457h5v1h-5zM798 458h6v1h-6zM804 459h5v1h-5zM809 460h5v1h-5zM814 461h5v1h-5zM819 462h5v1h-5zM824 463h5v1h-5zM829 464h6v1h-6zM835 465h5v1h-5zM840 466h5v1h-5zM845 467h5v1h-5zM850 468h5v1h-5zM855 469h5v1h-5zM860 470h6v1h-6zM866 471h5v1h-5zM871 472h5v1h-5z" fill="#f00" stroke="none"/>
<path d="M585 341.5H991" stroke="#4169e1" stroke-dasharray="3 3"/>
<path d="M705 377.5H991" stroke="#4169e1" stroke-dasharray="3 3"/>
<path d="M769 407.5H991" stroke="#4169e1" stroke-dasharray="3 3"/>
<path d="M805 460.5H991" stroke="#4169e1" stroke-dasharray="3 3"/>
<rect x="801" y="424" width="53" height="2" fill="#800080" stroke="none"/>
</g>
<path d="M4.5 4V474M4 4.5H992M991.5 4V474M4 473.5H992"/>
<path d="M992 8.5h2"/>
<path d="M992 41.5h2"/>
<path d="M992 74.5h2"/>
<path d="M992 107.5h2"/>
<path d="M992 140.5h2"/>
<path d="M992 173.5h2"/>
<path d="M992 206.5h2"/>
<path d="M992 239.5h2"/>
<path d="M992 272.5h2"/>
<path d="M992 305.5h2"/>
<path d="M992 338.5h2"/>
<path d="M992 371.5h2"/>
<path d="M992 404.5h2"/>
<path d="M992 437.5h2"/>
<path d="M992 470.5h2"/>
<path d="M5.5 474v3"/>
<path d="M69.5 474v3"/>
<path d="M133.5 474v3"/>
<path d="M197.5 474v3"/>
<path d="M261.5 474v3"/>
<path d="M325.5 474v3"/>
<path d="M389.5 474v3"/>
<path d="M453.5 474v3"/>
<path d="M517.5 474v3"/>
<path d="M581.5 474v3"/>
<path d="M645.5 474v3"/>
<path d="M709.5 474v3"/>
<path d="M773.5 474v3"/>
<path d="M837.5 474v3"/>
<path d="M8 11h7v1h-1v1h-1v1h-1v1h-1v-1h-1v-1h-1v-1h-1z" fill="#000" stroke="none"/>
</svg>
<div class="t" style="left:20px;top:9px;transform:scaleX(0.946)">EURUSD,H4</div>
<div class="t" style="left:80px;top:9px;transform:scaleX(0.921)">1.05770 1.05959 1.05706 1.05827</div>
<div class="t yl" style="top:4px">1.15370</div>
<div class="t yl" style="top:37px">1.14650</div>
<div class="t yl" style="top:70px">1.13930</div>
<div class="t yl" style="top:103px">1.13230</div>
<div class="t yl" style="top:136px">1.12510</div>
<div class="t yl" style="top:169px">1.11810</div>
<div class="t yl" style="top:202px">1.11090</div>
<div class="t yl" style="top:235px">1.10370</div>
<div class="t yl" style="top:268px">1.09670</div>
<div class="t yl" style="top:301px">1.08950</div>
<div class="t yl" style="top:334px">1.08230</div>
<div class="t yl" style="top:367px">1.07530</div>
<div class="t yl" style="top:400px">1.06810</div>
<div class="t yl" style="top:433px">1.06090</div>
<div class="t yl" style="top:466px">1.05390</div>
<div class="t xl" style="left:4px">9 Oct 2015</div>
<div class="t xl" style="left:68px">14 Oct 08:00</div>
<div class="t xl" style="left:132px">19 Oct 00:00</div>
<div class="t xl" style="left:196px">21 Oct 16:00</div>
<div class="t xl" style="left:260px">26 Oct 08:00</div>
<div class="t xl" style="left:324px">29 Oct 00:00</div>
<div class="t xl" style="left:388px">2 Nov 17:00</div>
<div class="t xl" style="left:452px">5 Nov 08:00</div>
<div class="t xl" style="left:516px">9 Nov 20:00</div>
<div class="t xl" style="left:580px">12 Nov 12:00</div>
<div class="t xl" style="left:644px">17 Nov 04:00</div>
<div class="t xl" style="left:708px">19 Nov 20:00</div>
<div class="t xl" style="left:772px">24 Nov 12:00</div>
<div class="t xl" style="left:836px">27 Nov 04:00</div>
<div class="pl" style="top:443px;height:11px;background:#000"><span style="top:2px">1.05827</span></div>
<div class="pl" style="top:434px;height:11px;background:#2f4f4f"><span style="top:2px">1.06030</span></div>
<div class="lab" style="left:746px;top:398px">1.0675</div>
<div class="lab" style="left:854px;top:419px">1.0635</div>
<div class="lab" style="left:767px;top:458px">1.0560</div>
<div class="b" style="left:0;top:0;width:991px;height:473px;overflow:hidden"><div class="lab" style="left:767px;top:472px">1.0535</div></div>
</body></html>
